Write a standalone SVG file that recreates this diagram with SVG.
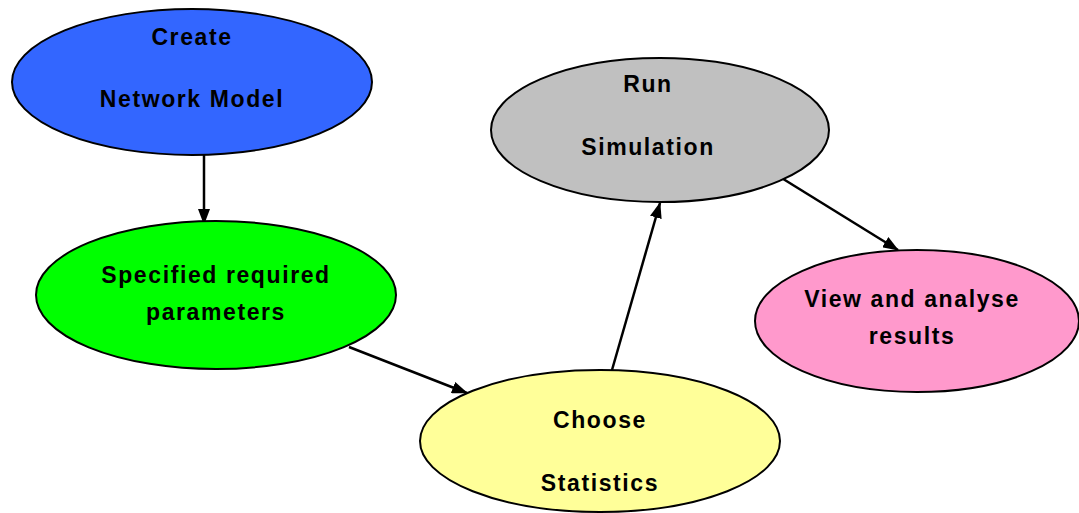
<svg xmlns="http://www.w3.org/2000/svg" width="1079" height="513" viewBox="0 0 1079 513">
<style>
.n{stroke:#000;stroke-width:2}
.t{font-family:"Liberation Sans",Arial,sans-serif;font-weight:bold;font-size:23px;letter-spacing:1.6px;fill:#000;text-anchor:middle}
.c{stroke:#000;stroke-width:2.5;fill:none;marker-end:url(#ah)}
</style>
<defs>
<marker id="ah" markerWidth="16" markerHeight="12" refX="15" refY="6" orient="auto" markerUnits="userSpaceOnUse">
<path d="M0,0 L16,6 L0,12 z" fill="#000"/>
</marker>
</defs>
<rect width="1079" height="513" fill="#fff"/>
<g id="connectors">
<line class="c" x1="204" y1="155" x2="204" y2="224"/>
<line class="c" x1="349" y1="347" x2="467" y2="393"/>
<line class="c" x1="612" y1="370" x2="660" y2="203"/>
<line class="c" x1="780" y1="177" x2="898" y2="250"/>
</g>
<g id="create">
<ellipse class="n" cx="192" cy="82" rx="180" ry="73" fill="#3366ff"/>
<text class="t" x="192" y="45">Create</text>
<text class="t" x="192" y="107">Network Model</text>
</g>
<g id="specify">
<ellipse class="n" cx="216" cy="295" rx="180" ry="74" fill="#00ff00"/>
<text class="t" x="216" y="283">Specified required</text>
<text class="t" x="216" y="320">parameters</text>
</g>
<g id="run">
<ellipse class="n" cx="660" cy="130" rx="169" ry="72" fill="#c0c0c0"/>
<text class="t" x="648" y="92">Run</text>
<text class="t" x="648" y="155">Simulation</text>
</g>
<g id="view">
<ellipse class="n" cx="917" cy="321" rx="162" ry="71" fill="#ff99cc"/>
<text class="t" x="912" y="307">View and analyse</text>
<text class="t" x="912" y="344">results</text>
</g>
<g id="choose">
<ellipse class="n" cx="600" cy="441" rx="180" ry="71" fill="#ffff99"/>
<text class="t" x="600" y="428">Choose</text>
<text class="t" x="600" y="491">Statistics</text>
</g>
</svg>
